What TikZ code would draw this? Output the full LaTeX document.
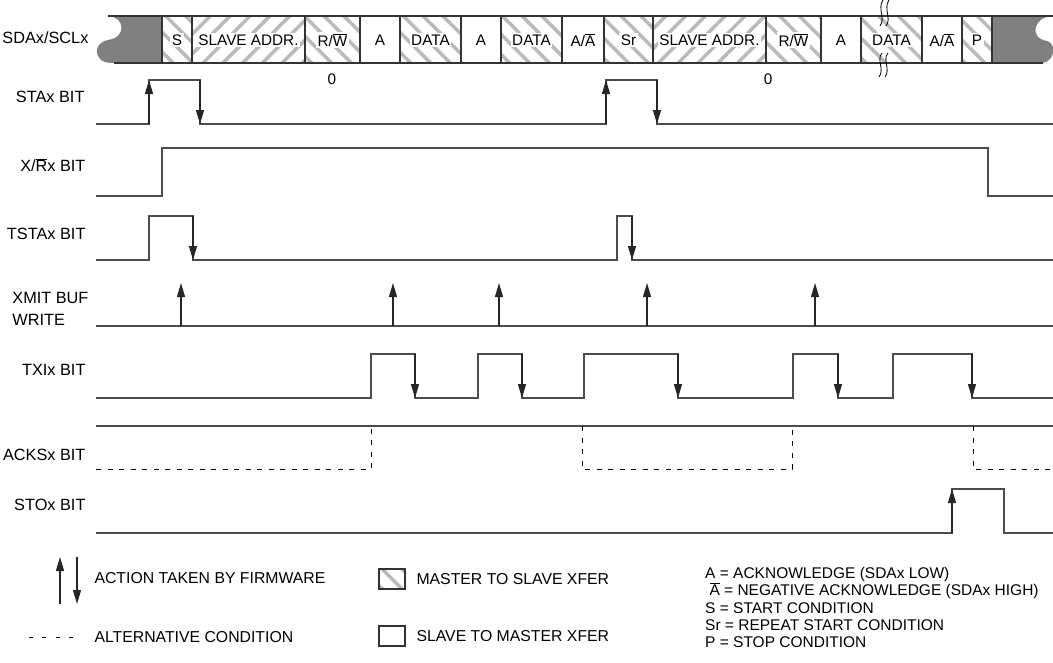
\documentclass[tikz,border=0pt]{standalone}
\usepackage{fontspec}
\setmainfont{Liberation Sans}
\usetikzlibrary{arrows.meta,patterns.meta,positioning}
\newcommand{\ovl}[1]{$\overline{\hbox{#1}}$}

\begin{document}
\begin{tikzpicture}[x=1pt,y=-1pt,
    wave/.style={line width=1.3pt, draw=black!70},
    fw/.style={line width=1.3pt, draw=black!85, -{Triangle[length=14pt,width=8pt]}},
    alt/.style={line width=1pt, dash pattern=on 5pt off 6.5pt},
    sig/.style={anchor=east, font=\fontsize{16.3}{21.5}\selectfont, align=left},
    cell/.style={font=\fontsize{15.3}{17}\selectfont, inner sep=1.5pt},
    m2s/.style={draw=black!80, line width=1.1pt, pattern={Lines[angle=-45,distance=14pt,line width=3.5pt]}, pattern color=black!27},
    m2sr/.style={draw=black!80, line width=1.1pt, pattern={Lines[angle=45,distance=14pt,line width=3.5pt]}, pattern color=black!27},
    s2m/.style={draw=black!80, line width=1.1pt, fill=white},
    legtxt/.style={anchor=west, font=\fontsize{15.8}{17.3}\selectfont, align=left}]
  \useasboundingbox (0,0) rectangle (1053,662);

  % bus with its torn ends
  \fill[black!50] (108,16) .. controls (124,16) and (128,37) .. (108,40)
    .. controls (97,42) and (95,52) .. (98,56) .. controls (101,62) and (106,63) .. (114,63)
    -- (162,63) -- (162,16) -- cycle;
  \fill[black!50] (992,16) -- (1053,16) .. controls (1034,16) and (1028,38) .. (1047,41)
    .. controls (1056,43) and (1056,60) .. (1043,63) -- (992,63) -- cycle;
  \draw[line width=1.1pt, black!80] (108,16) -- (1053,16);
  \draw[line width=1.1pt, black!80] (114,63) -- (1043,63);
  \foreach \xa/\xb/\kind/\txt in {162/192/m2s/S, 192/305/m2sr/{SLAVE ADDR.},
      305/360/m2s/{R/\ovl{W}}, 360/400/s2m/A, 400/461/m2s/DATA, 461/501/s2m/A,
      501/562/m2s/DATA, 562/604/s2m/{A/\ovl{A}}, 604/653/m2s/Sr,
      653/766/m2sr/{SLAVE ADDR.}, 766/821/m2s/{R/\ovl{W}}, 821/861/s2m/A,
      861/922/m2s/DATA, 922/962/s2m/{A/\ovl{A}}, 962/992/m2s/P} {
    \draw[\kind] (\xa,16) rectangle (\xb,63);
    \node[cell, fill=white] (cell-\xa) at ({(\xa+\xb)/2},40) {\txt};
  }
  \foreach \x in {881,887} {
    \draw[line width=0.8pt] (\x-1,26) .. controls (\x+5,18) and (\x-4,9) .. (\x+2,0);
    \draw[line width=0.8pt] (\x-2,77) .. controls (\x+4,69) and (\x-5,60) .. (\x+1,53);
  }
  \node[cell] (zero-a) at (332,79) {0};
  \node[cell] (zero-b) at (768,79) {0};

  % signal names
  \node[sig] (lbl-sda) at (92,38) {SDAx/SCLx};
  \node[sig] (lbl-sta) at (88,97) {STAx BIT};
  \node[sig] (lbl-xr) at (89,165) {X/\ovl{R}x BIT};
  \node[sig] (lbl-tsta) at (89,234) {TSTAx BIT};
  \node[sig] (lbl-xmit) at (92,309) {XMIT BUF\\WRITE};
  \node[sig] (lbl-txi) at (89,370) {TXIx BIT};
  \node[sig] (lbl-acks) at (89,455) {ACKSx BIT};
  \node[sig] (lbl-sto) at (89,505) {STOx BIT};

  % STAx
  \draw[wave] (96,124) -| (149,80) -| (200,124) -- (606,124) |- (657,80) |- (1053,124);
  \draw[fw] (149,124) -- (149,80);
  \draw[fw] (200,80) -- (200,124);
  \draw[fw] (606,124) -- (606,80);
  \draw[fw] (657,80) -- (657,124);

  % X/Rx
  \draw[wave] (96,196) -| (162,148) -| (988,196) -- (1053,196);

  % TSTAx
  \draw[wave] (96,260) -| (149,216) -| (193,260) -- (617,260) |- (632,216) |- (1053,260);
  \draw[fw] (193,216) -- (193,260);
  \draw[fw] (632,216) -- (632,260);

  % XMIT BUF WRITE
  \draw[wave] (96,326) -- (1053,326);
  \foreach \x in {181,393,499,647,815}
    \draw[fw] (\x,326) -- (\x,283);

  % TXIx
  \draw[wave] (96,398) -| (371,354) -| (415,398) -| (478,354) -| (522,398)
    -| (584,354) -| (678,398) -| (793,354) -| (838,398) -| (893,354) -| (972,398) -- (1053,398);
  \foreach \x in {415,522,678,838,972}
    \draw[fw] (\x,354) -- (\x,398);

  % ACKSx
  \draw[wave] (96,426) -- (1053,426);
  \draw[alt] (96,469) -| (371,426);
  \draw[alt] (582,426) |- (792,469) -- (792,426);
  \draw[alt] (973,426) |- (1053,469);

  % STOx
  \draw[wave] (96,533) -| (952,489) -| (1004,533) -- (1053,533);
  \draw[fw] (952,533) -- (952,489);

  % legend
  \draw[fw] (60,604) -- (60,557);
  \draw[fw] (77,557) -- (77,604);
  \node[legtxt] (leg-act) at (91,578) {ACTION TAKEN BY FIRMWARE};
  \draw[line width=1pt, dash pattern=on 4pt off 9.3pt] (29,637) -- (80,637);
  \node[legtxt] (leg-alt) at (91,637) {ALTERNATIVE CONDITION};
  \draw[m2s] (379,569) rectangle (405,589);
  \node[legtxt] (leg-m2s) at (413,579) {MASTER TO SLAVE XFER};
  \draw[s2m] (379,626) rectangle (405,646);
  \node[legtxt] (leg-s2m) at (413,636) {SLAVE TO MASTER XFER};
  \node[legtxt, anchor=north west, inner sep=0pt, font=\fontsize{15.5}{17.3}\selectfont] (leg-abbr) at (705,567)
    {A = ACKNOWLEDGE (SDAx LOW)\\
     \ \ovl{A} = NEGATIVE ACKNOWLEDGE (SDAx HIGH)\\
     S = START CONDITION\\
     Sr = REPEAT START CONDITION\\
     P = STOP CONDITION};
\end{tikzpicture}
\end{document}
